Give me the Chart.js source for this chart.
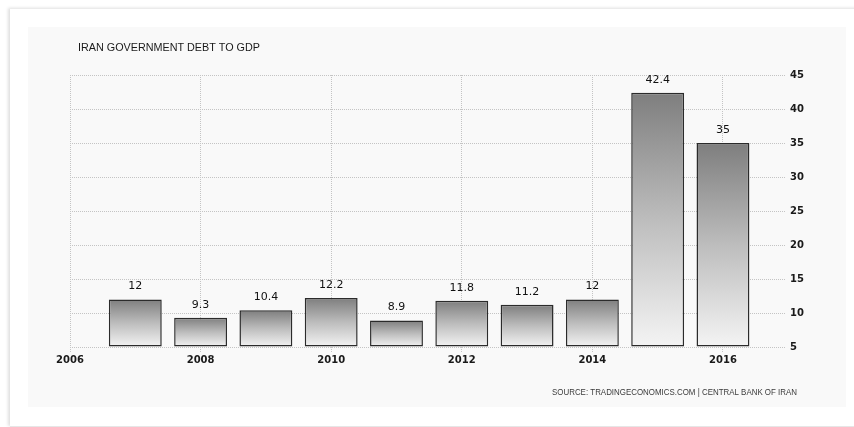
<!DOCTYPE html>
<html>
<head>
<meta charset="utf-8">
<script src="https://cdn.jsdelivr.net/npm/chart.js@4"></script>
<style>
    html, body { margin: 0; padding: 0; background: #fff; }
    body { width: 854px; height: 427px; position: relative; overflow: hidden; }
    .card {
        position: absolute; left: 10px; top: 9px; width: 860px; height: 417px;
        background: #fff;
        box-shadow: -2px -1px 3px rgba(0, 0, 0, 0.13);
        border-bottom: 1px solid #e6e6e6;
    }
    .panel {
        position: absolute; left: 28px; top: 27px; width: 818px; height: 380px;
        background: #f9f9f9;
    }
    #debtChart { display: block; }
</style>
</head>
<body>
<div class="card"></div>
<div class="panel">
    <canvas id="debtChart" width="818" height="380"></canvas>
</div>
<script>
const years = [2007, 2008, 2009, 2010, 2011, 2012, 2013, 2014, 2015, 2016];
const debtToGdp = [12, 9.3, 10.4, 12.2, 8.9, 11.8, 11.2, 12, 42.4, 35];
const xTicks = [2006, 2008, 2010, 2012, 2014, 2016];
const yTicks = [5, 10, 15, 20, 25, 30, 35, 40, 45];

const chartTitle = 'IRAN GOVERNMENT DEBT TO GDP';
const sourceText = 'SOURCE: TRADINGECONOMICS.COM | CENTRAL BANK OF IRAN';

// vertical gradient per bar, dark on top fading to near white at the base
function barGradient(context) {
    const chart = context.chart;
    if (!chart.chartArea || !context.raw) return '#aaa';
    const yScale = chart.scales.y;
    const top = yScale.getPixelForValue(context.raw.y);
    const bottom = yScale.getPixelForValue(yTicks[0]);
    const g = chart.ctx.createLinearGradient(0, top, 0, bottom);
    g.addColorStop(0, '#7e7e7e');
    g.addColorStop(0.5, '#bdbdbd');
    g.addColorStop(1, '#f4f4f4');
    return g;
}

const textPlugin = {
    id: 'textPlugin',
    afterDatasetsDraw(chart) {
        const { ctx, chartArea } = chart;
        const xScale = chart.scales.x;
        const yScale = chart.scales.y;
        ctx.save();

        // value labels above bars
        ctx.fillStyle = '#111';
        ctx.font = '11px "DejaVu Sans"';
        ctx.textAlign = 'center';
        ctx.textBaseline = 'middle';
        years.forEach((yr, i) => {
            const x = xScale.getPixelForValue(yr);
            const y = yScale.getPixelForValue(debtToGdp[i]);
            ctx.fillText(String(debtToGdp[i]), x, y - 13);
        });

        // title
        ctx.fillStyle = '#1a1a1a';
        ctx.font = '11.5px "Liberation Sans"';
        ctx.textAlign = 'left';
        ctx.fillText(chartTitle, chartArea.left + 8, 21, 182);

        // source line
        ctx.fillStyle = '#3a3a3a';
        ctx.font = '8.5px "Liberation Sans"';
        ctx.textAlign = 'right';
        ctx.fillText(sourceText, 769, 366, 245);

        ctx.restore();
    }
};

const ctx = document.getElementById('debtChart').getContext('2d');
new Chart(ctx, {
    type: 'bar',
    data: {
        datasets: [{
            label: 'Government Debt to GDP',
            data: years.map((yr, i) => ({ x: yr, y: debtToGdp[i] })),
            base: yTicks[0],
            backgroundColor: barGradient,
            borderColor: '#2b2b2b',
            borderWidth: 1.5,
            borderSkipped: false,
            barPercentage: 0.81,
            categoryPercentage: 1
        }]
    },
    options: {
        responsive: false,
        animation: false,
        layout: { padding: { top: 48, left: 42, right: 0, bottom: 0 } },
        plugins: {
            legend: { display: false },
            tooltip: { enabled: false }
        },
        scales: {
            x: {
                type: 'linear',
                min: 2006,
                max: 2016.95,
                offset: false,
                afterBuildTicks: axis => { axis.ticks = xTicks.map(v => ({ value: v })); },
                afterFit: axis => { axis.height = 60; },
                grid: {
                    offset: false,
                    color: '#c4c4c4',
                    tickColor: '#c4c4c4',
                    tickLength: 5,
                    tickBorderDash: [1, 1]
                },
                border: { display: false, dash: [1, 1] },
                ticks: {
                    color: '#1a1a1a',
                    font: { family: 'DejaVu Sans', size: 10, weight: 'bold' },
                    padding: 2,
                    maxRotation: 0,
                    callback: v => String(v)
                }
            },
            y: {
                position: 'right',
                min: 5,
                max: 45,
                afterBuildTicks: axis => { axis.ticks = yTicks.map(v => ({ value: v })); },
                afterFit: axis => { axis.width = 61; },
                grid: { color: '#c4c4c4', drawTicks: false },
                border: { display: false, dash: [1, 1] },
                ticks: {
                    color: '#1a1a1a',
                    font: { family: 'DejaVu Sans', size: 10, weight: 'bold' },
                    padding: 5
                }
            }
        }
    },
    plugins: [textPlugin]
});
</script>
</body>
</html>
